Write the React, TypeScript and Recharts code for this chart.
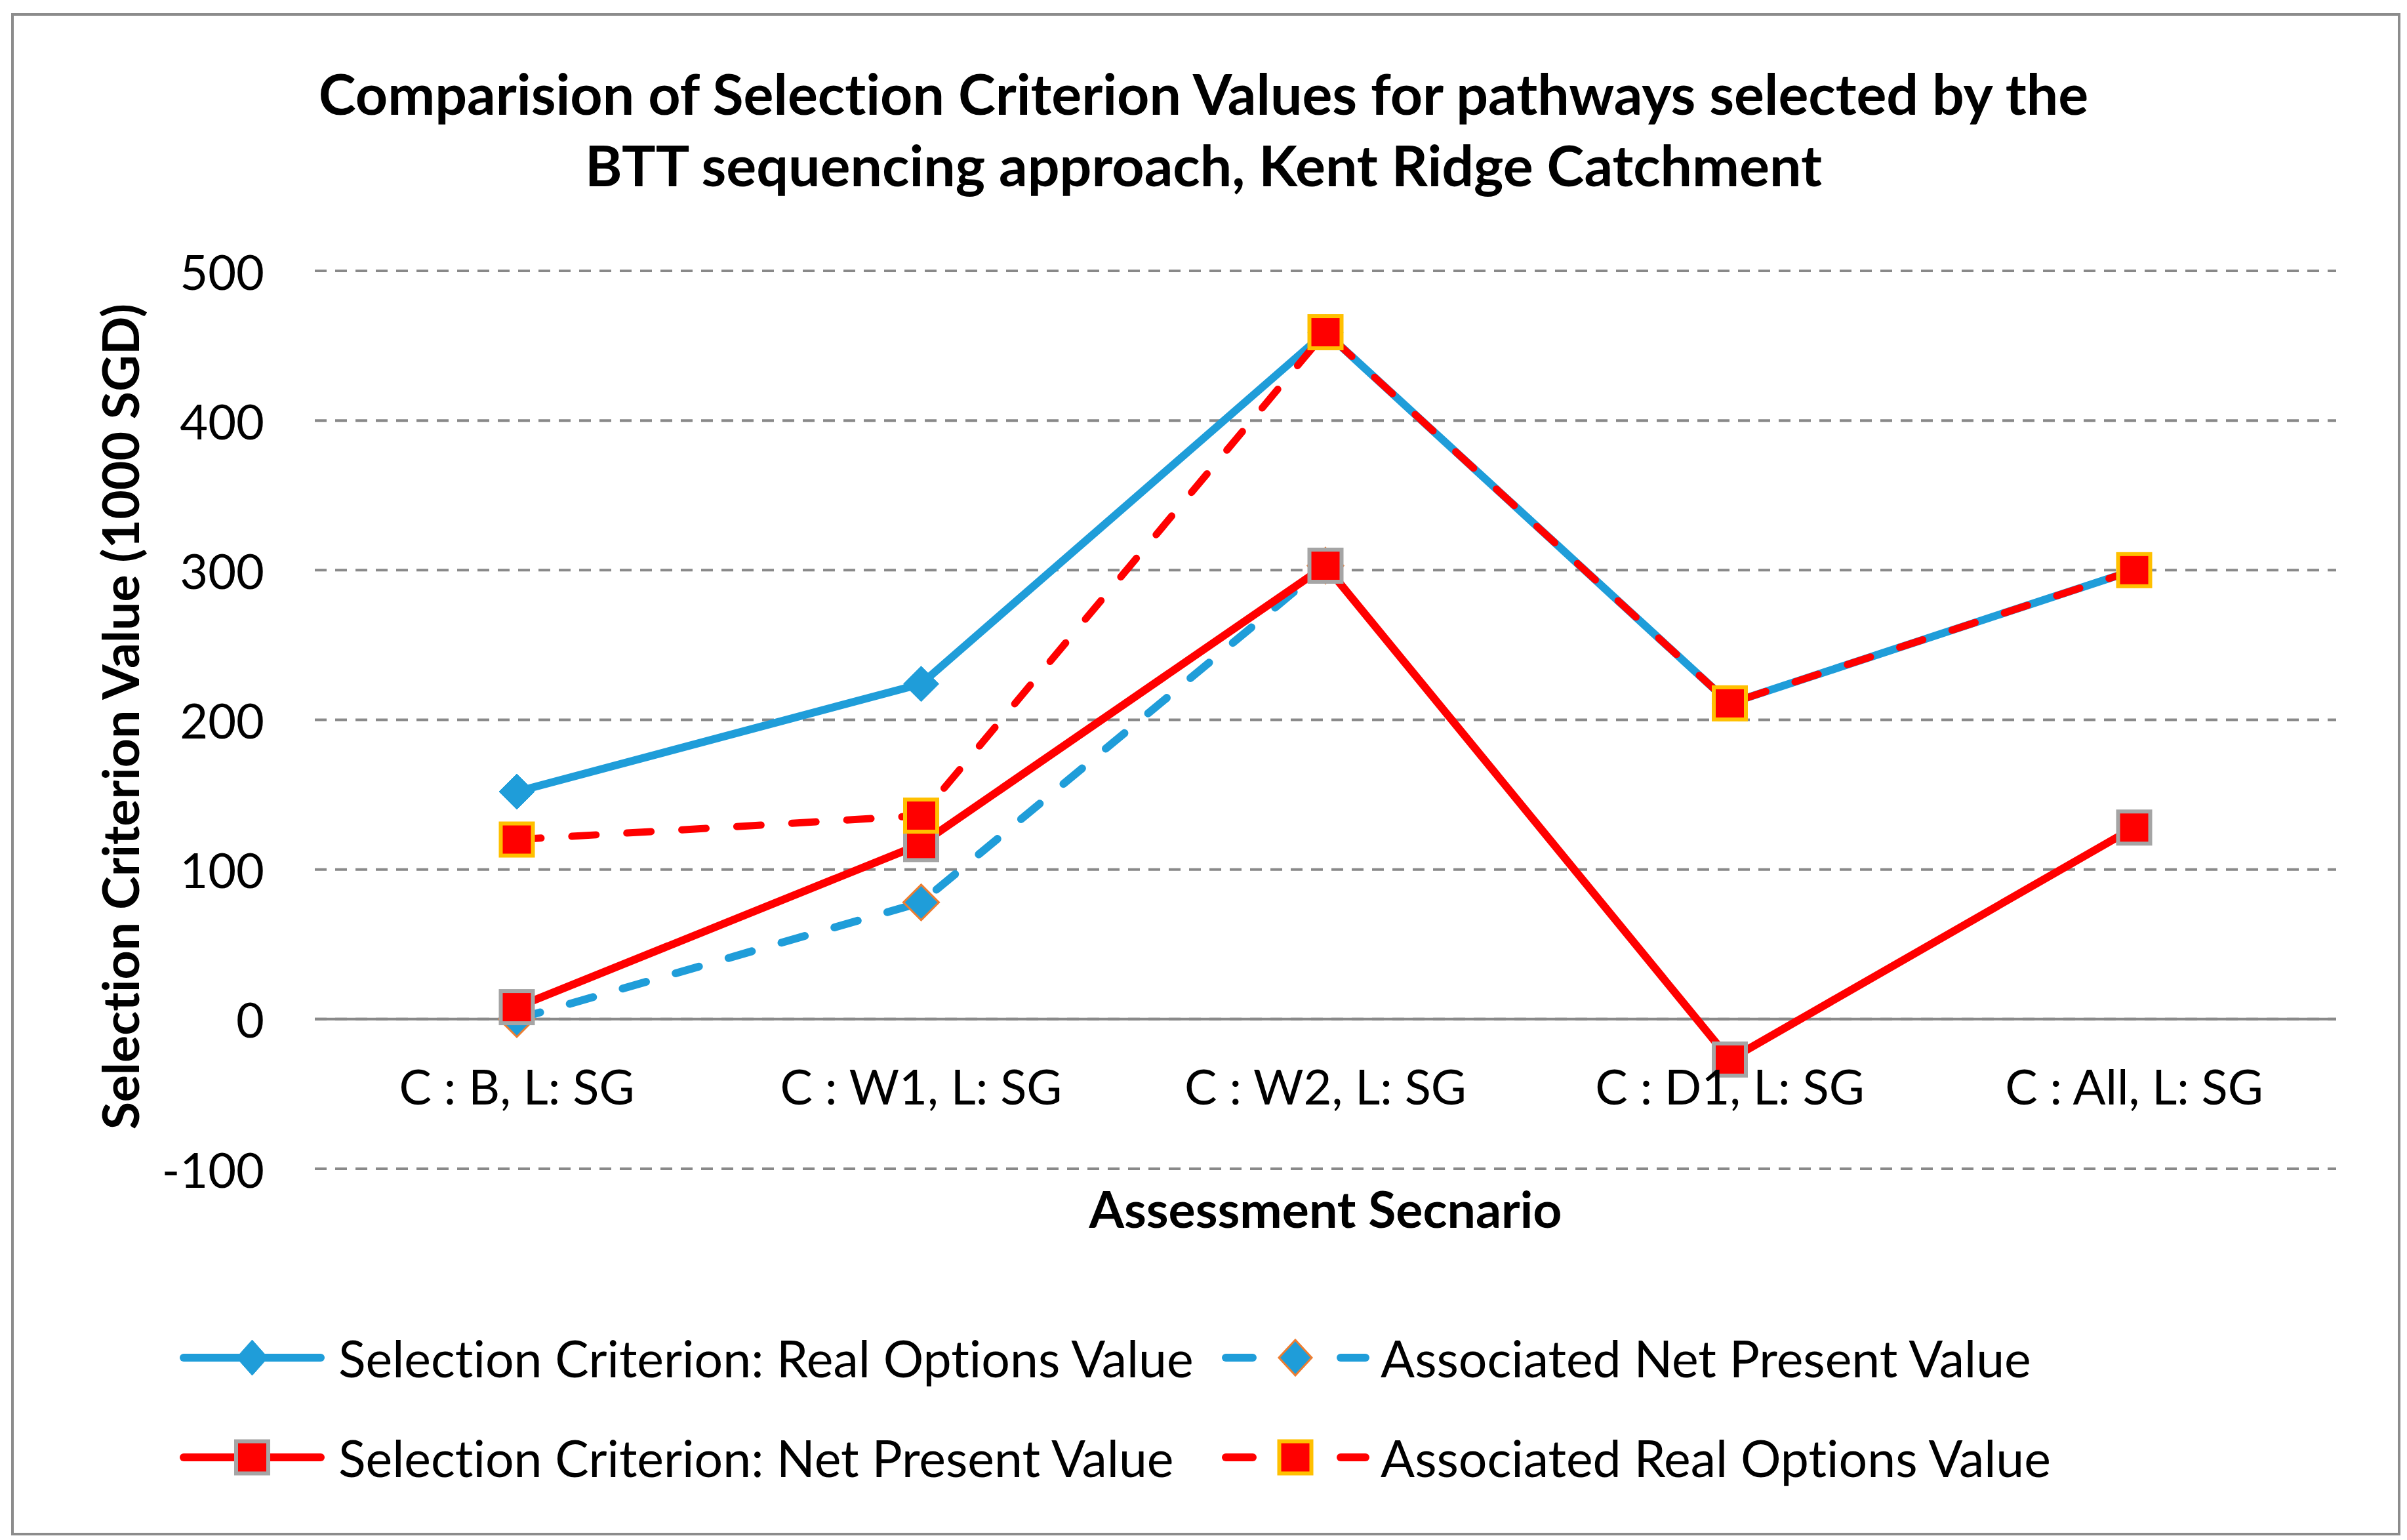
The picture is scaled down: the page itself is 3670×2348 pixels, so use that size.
import React from 'react';
import { LineChart, Line, XAxis, YAxis, CartesianGrid, ReferenceLine, Legend, Label } from 'recharts';

const categories = ['C : B, L: SG', 'C : W1, L: SG', 'C : W2, L: SG', 'C : D1, L: SG', 'C : All, L: SG'];
const selRealOptions = [152, 224, 459, 211, 300];
const assocNetPresent: (number | null)[] = [0, 78, 303, null, null];
const selNetPresent = [8, 117, 303, -27, 128];
const assocRealOptions = [120, 136, 459, 211, 300];
const yTicks = [-100, 0, 100, 200, 300, 400, 500];
const seriesNames = [
  'Selection Criterion: Real Options Value',
  'Associated Net Present Value',
  'Selection Criterion: Net Present Value',
  'Associated Real Options Value',
];
const titleLines = [
  'Comparision of Selection Criterion Values for pathways selected by the',
  'BTT sequencing approach, Kent Ridge Catchment',
];
const xTitle = 'Assessment Secnario';
const yTitle = 'Selection Criterion Value (1000 SGD)';

const data = categories.map((c, i) => ({
  category: c,
  selROV: selRealOptions[i],
  assocNPV: assocNetPresent[i],
  selNPV: selNetPresent[i],
  assocROV: assocRealOptions[i],
}));

const BLUE = '#1F9DD9';
const RED = '#FF0000';
const GRAY_BORDER = '#A5A5A5';
const YELLOW = '#FFC000';
const ORANGE = '#ED7D31';
const GRID = '#898989';
const FONT = 'Lato, "Open Sans", sans-serif';
const NOLIG: React.CSSProperties = { fontVariantLigatures: 'none', fontFeatureSettings: '"liga" 0, "clig" 0' };

const W = 3670;
const H = 2348;
const DASH = '37 47';

const diamondPoints = (cx: number, cy: number, hw: number, hh: number) =>
  `${cx},${cy - hh} ${cx + hw},${cy} ${cx},${cy + hh} ${cx - hw},${cy}`;

const makeDiamond = (fill: string, stroke: string, sw: number) => (props: any) => {
  const { cx, cy, value, index } = props;
  if (value == null || cx == null || cy == null || isNaN(cy)) return <g key={`d-${index}`} />;
  return (
    <polygon key={`d-${index}`} points={diamondPoints(cx, cy, 27, 27)} fill={fill} stroke={stroke} strokeWidth={sw} strokeLinejoin="miter" />
  );
};

const makeSquare = (fill: string, stroke: string) => (props: any) => {
  const { cx, cy, value, index } = props;
  if (value == null || cx == null || cy == null || isNaN(cy)) return <g key={`s-${index}`} />;
  const s = 49;
  return <rect key={`s-${index}`} x={cx - s / 2} y={cy - s / 2} width={s} height={s} fill={fill} stroke={stroke} strokeWidth={6} />;
};

const XTick = (props: any) => {
  const { x, y, payload } = props;
  return (
    <text x={x} y={y - 127} textAnchor="middle" dominantBaseline="central" fontSize={74} fontFamily={FONT} fill="#000" style={NOLIG}>
      {payload.value}
    </text>
  );
};

const YTick = (props: any) => {
  const { x, y, payload } = props;
  return (
    <text x={x} y={y} textAnchor="end" dominantBaseline="central" fontSize={74} fontFamily={FONT} fill="#000" style={NOLIG}>
      {payload.value}
    </text>
  );
};

const LegendContent = () => {
  const rows = [80, 232];
  const col1 = { l: 274, r: 495, tx: 516 };
  const col2 = { l: 1863, r: 2088, tx: 2105 };
  const textProps = { fontSize: 77, fontFamily: FONT, fill: '#000', dominantBaseline: 'central' as const, style: NOLIG };
  const m1 = (col1.l + col1.r) / 2;
  const m2 = 1975;
  return (
    <svg width={W} height={300} style={{ display: 'block' }}>
      <line x1={col1.l + 6} x2={col1.r - 6} y1={rows[0]} y2={rows[0]} stroke={BLUE} strokeWidth={12} strokeLinecap="round" />
      <polygon points={diamondPoints(m1, rows[0], 24, 27)} fill={BLUE} stroke={BLUE} strokeWidth={1} />
      <text x={col1.tx} y={rows[0]} {...textProps}>{seriesNames[0]}</text>

      <line x1={col2.l + 6} x2={1910} y1={rows[0]} y2={rows[0]} stroke={BLUE} strokeWidth={12} strokeLinecap="round" />
      <line x1={2044} x2={col2.r - 6} y1={rows[0]} y2={rows[0]} stroke={BLUE} strokeWidth={12} strokeLinecap="round" />
      <polygon points={diamondPoints(m2, rows[0], 25, 27)} fill={BLUE} stroke={ORANGE} strokeWidth={3} />
      <text x={col2.tx} y={rows[0]} {...textProps}>{seriesNames[1]}</text>

      <line x1={col1.l + 6} x2={col1.r - 6} y1={rows[1]} y2={rows[1]} stroke={RED} strokeWidth={12} strokeLinecap="round" />
      <rect x={m1 - 24.5} y={rows[1] - 24.5} width={49} height={49} fill={RED} stroke={GRAY_BORDER} strokeWidth={6} />
      <text x={col1.tx} y={rows[1]} {...textProps}>{seriesNames[2]}</text>

      <line x1={col2.l + 6} x2={1910} y1={rows[1]} y2={rows[1]} stroke={RED} strokeWidth={12} strokeLinecap="round" />
      <line x1={2044} x2={col2.r - 6} y1={rows[1]} y2={rows[1]} stroke={RED} strokeWidth={12} strokeLinecap="round" />
      <rect x={m2 - 24.5} y={rows[1] - 24.5} width={49} height={49} fill={RED} stroke={YELLOW} strokeWidth={6} />
      <text x={col2.tx} y={rows[1]} {...textProps}>{seriesNames[3]}</text>
    </svg>
  );
};

export default function App() {
  return (
    <div style={{ position: 'absolute', left: 0, top: 0, width: W, height: H, background: '#fff', fontFamily: FONT }}>
      <div
        style={{
          position: 'absolute',
          left: 17,
          top: 20,
          width: 3660 - 17,
          height: 2341 - 20,
          border: '4px solid #8C8C8C',
          boxSizing: 'border-box',
        }}
      />
      <svg width={W} height={330} style={{ position: 'absolute', left: 0, top: 0 }}>
        {titleLines.map((t, i) => (
          <text
            key={i}
            x={W / 2}
            y={[141, 250][i]}
            textAnchor="middle"
            dominantBaseline="central"
            fontSize={86}
            fontWeight="bold"
            fontFamily={FONT}
            fill="#000"
            style={NOLIG}
          >
            {t}
          </text>
        ))}
      </svg>
      <div style={{ position: 'absolute', left: 0, top: 0 }}>
        <LineChart width={W} height={H} data={data} margin={{ top: 413, right: 108, left: 120, bottom: 466 }}>
          <CartesianGrid vertical={false} stroke={GRID} strokeWidth={4} strokeDasharray="18 13" />
          <ReferenceLine y={0} stroke={GRID} strokeWidth={4} />
          <XAxis
            dataKey="category"
            axisLine={false}
            tickLine={false}
            tickSize={0}
            tickMargin={0}
            height={100}
            interval={0}
            padding={{ left: 308, right: 308 }}
            tick={<XTick />}
          >
            <Label
              content={(p: any) => {
                const vb = p.viewBox;
                return (
                  <text x={vb.x + vb.width / 2} y={vb.y + 60} textAnchor="middle" dominantBaseline="central" fontSize={77} fontWeight="bold" fontFamily={FONT} fill="#000" style={NOLIG}>
                    {xTitle}
                  </text>
                );
              }}
            />
          </XAxis>
          <YAxis
            type="number"
            domain={[-100, 500]}
            ticks={yTicks}
            interval={0}
            width={360}
            axisLine={false}
            tickLine={false}
            tickSize={0}
            tickMargin={77}
            tick={<YTick />}
          >
            <Label
              content={(p: any) => {
                const vb = p.viewBox;
                const x = vb.x + 62;
                const y = vb.y + vb.height / 2 - 5;
                return (
                  <text x={x} y={y} transform={`rotate(-90, ${x}, ${y})`} textAnchor="middle" dominantBaseline="central" fontSize={77} fontWeight="bold" fontFamily={FONT} fill="#000" style={NOLIG}>
                    {yTitle}
                  </text>
                );
              }}
            />
          </YAxis>
          <Legend
            layout="horizontal"
            verticalAlign="middle"
            align="center"
            wrapperStyle={{ left: 0, top: 1990, width: W, height: 300 }}
            content={<LegendContent />}
          />
          <Line
            dataKey="selROV"
            name={seriesNames[0]}
            stroke={BLUE}
            strokeWidth={12}
            strokeLinejoin="round"
            dot={makeDiamond(BLUE, BLUE, 1)}
            activeDot={false}
            isAnimationActive={false}
          />
          <Line
            dataKey="assocNPV"
            name={seriesNames[1]}
            stroke={BLUE}
            strokeWidth={12}
            strokeDasharray={DASH}
            strokeLinecap="round"
            dot={makeDiamond(BLUE, ORANGE, 3)}
            activeDot={false}
            isAnimationActive={false}
          />
          <Line
            dataKey="selNPV"
            name={seriesNames[2]}
            stroke={RED}
            strokeWidth={12}
            strokeLinejoin="round"
            dot={makeSquare(RED, GRAY_BORDER)}
            activeDot={false}
            isAnimationActive={false}
          />
          <Line
            dataKey="assocROV"
            name={seriesNames[3]}
            stroke={RED}
            strokeWidth={11}
            strokeDasharray={DASH}
            strokeLinecap="round"
            dot={makeSquare(RED, YELLOW)}
            activeDot={false}
            isAnimationActive={false}
          />
        </LineChart>
      </div>
    </div>
  );
}
